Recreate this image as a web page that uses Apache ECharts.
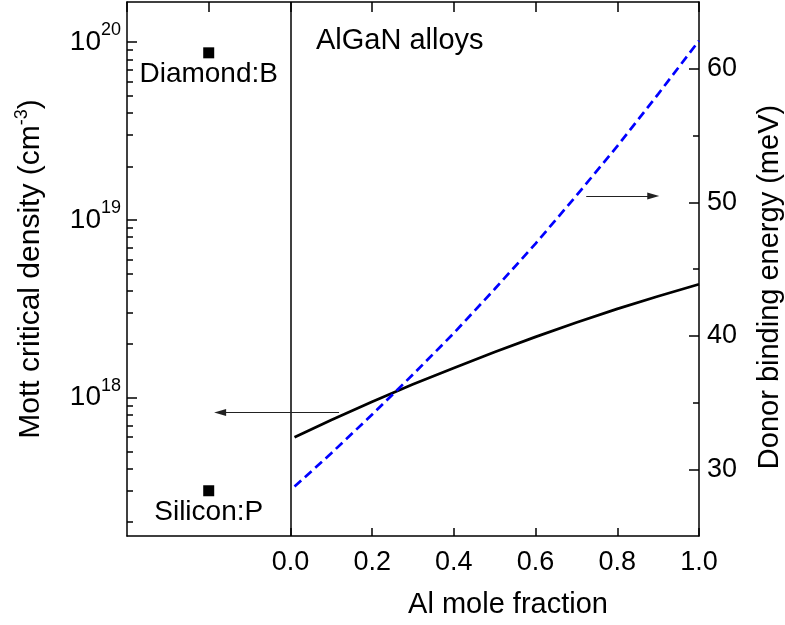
<!DOCTYPE html>
<html>
<head>
<meta charset="utf-8">
<title>AlGaN alloys: Mott critical density and donor binding energy</title>
<script src="https://cdn.jsdelivr.net/npm/echarts@6/dist/echarts.min.js"></script>
<style>
html, body { margin: 0; padding: 0; background: #fff; }
#main { width: 785px; height: 625px; }
</style>
</head>
<body>
<div id="main"></div>
<script>
// Al mole fraction of the two AlGaN curves
var alFraction = [0.01, 0.1, 0.2, 0.3, 0.4, 0.5, 0.6, 0.7, 0.8, 0.9, 1.0];
// Mott critical density (cm^-3), left log axis
var mottDensity = [6.0e17, 7.5e17, 9.5e17, 1.19e18, 1.47e18, 1.81e18, 2.2e18, 2.65e18, 3.16e18, 3.72e18, 4.35e18];
// donor binding energy (meV), right axis
var bindingEnergy = [28.7, 31.2, 34.1, 37.1, 40.2, 43.5, 46.9, 50.5, 54.2, 58.1, 62.1];

// reference semiconductors, plotted left of x = 0
var refNames = ['Diamond:B', 'Silicon:P'];
var refX = [-0.2, -0.2];
var refDensity = [8.7e19, 3.0e17];

// arrows telling which axis each curve uses: [x start, x end, y]
var leftArrow = [0.119, -0.172, 8.26e17];
var rightArrow = [0.724, 0.888, 50.46];

// axes
var xTicks = [0, 0.2, 0.4, 0.6, 0.8, 1.0];
var densityMin = 1.67e17, densityMax = 1.68e20;
var densityTicks = [1e18, 1e19, 1e20];
var minorMantissa = [2, 3, 4, 5, 6, 7, 8, 9];
var minorDecades = [17, 18, 19];
var energyMin = 25, energyMax = 65;
var energyTicks = [30, 40, 50, 60];
var energyMinorTicks = [35, 45, 55];

var lg = Math.log10;
var black = '#000';
var font = '"Liberation Sans", Arial, Helvetica, sans-serif';

// the left axis is a value axis in log10 units
var densityMinorTicks = [];
minorDecades.forEach(function (d) {
  minorMantissa.forEach(function (m) { densityMinorTicks.push(lg(m) + d); });
});

var axisLine = { onZero: false, lineStyle: { color: black, width: 1.5 } };
var noLine = { show: false, onZero: false };
var tickStyle = { color: black, width: 1.5 };

var option = {
  animation: false,
  textStyle: { fontFamily: font, color: black },
  title: {
    text: 'AlGaN alloys',
    left: 316,
    top: 26,
    padding: 0,
    textStyle: { fontSize: 29, fontWeight: 'normal', color: black, fontFamily: font }
  },
  grid: { left: 127, right: 86, top: 2, bottom: 89, outerBoundsMode: 'none' },
  xAxis: [{
    type: 'value',
    position: 'bottom',
    min: -0.4,
    max: 1.0,
    interval: 0.2,
    name: 'Al mole fraction',
    nameLocation: 'middle',
    nameGap: 54,
    nameTextStyle: { fontSize: 29, color: black, padding: [0, 0, 0, 190] },
    axisLine: axisLine,
    axisTick: { inside: true, length: 8, lineStyle: tickStyle, customValues: xTicks },
    axisLabel: {
      customValues: xTicks,
      margin: 13,
      fontSize: 27,
      color: black,
      formatter: function (v) { return v.toFixed(1); }
    },
    splitLine: { show: false }
  }, {
    type: 'value',
    position: 'top',
    min: -0.4,
    max: 1.0,
    interval: 0.2,
    axisLine: axisLine,
    axisTick: { inside: true, length: 10, lineStyle: tickStyle },
    axisLabel: { show: false },
    splitLine: { show: false }
  }],
  yAxis: [{
    type: 'value',
    position: 'left',
    min: lg(densityMin),
    max: lg(densityMax),
    name: 'Mott critical density (cm{s|-3})',
    nameLocation: 'middle',
    nameGap: 78,
    nameTextStyle: {
      fontSize: 30,
      color: black,
      lineHeight: 36,
      rich: { s: { fontSize: 18, lineHeight: 18, verticalAlign: 'top', fontFamily: font, color: black } }
    },
    axisLine: axisLine,
    axisTick: { inside: true, length: 10, lineStyle: tickStyle, customValues: densityTicks.map(lg) },
    axisLabel: {
      customValues: densityTicks.map(lg),
      margin: 6,
      formatter: function (v) { return '{b|10}{s|' + Math.round(v) + '}'; },
      rich: {
        b: { fontSize: 28, lineHeight: 42, fontFamily: font, color: black },
        s: { fontSize: 18, lineHeight: 16, verticalAlign: 'top', fontFamily: font, color: black }
      }
    },
    splitLine: { show: false }
  }, {
    type: 'value',
    position: 'left',
    min: lg(densityMin),
    max: lg(densityMax),
    axisLine: noLine,
    axisTick: { inside: true, length: 6, lineStyle: tickStyle, customValues: densityMinorTicks },
    axisLabel: { show: false },
    splitLine: { show: false }
  }, {
    type: 'value',
    position: 'right',
    min: energyMin,
    max: energyMax,
    name: 'Donor binding energy (meV)',
    nameLocation: 'middle',
    nameGap: 56,
    nameTextStyle: { fontSize: 29, color: black, padding: [0, 36, 0, 0] },
    axisLine: axisLine,
    axisTick: { inside: true, length: 10, lineStyle: tickStyle, customValues: energyTicks },
    axisLabel: { customValues: energyTicks, margin: 8, fontSize: 27, color: black },
    splitLine: { show: false }
  }, {
    type: 'value',
    position: 'right',
    min: energyMin,
    max: energyMax,
    axisLine: noLine,
    axisTick: { inside: true, length: 6, lineStyle: tickStyle, customValues: energyMinorTicks },
    axisLabel: { show: false },
    splitLine: { show: false }
  }],
  series: [{
    name: 'Mott critical density',
    type: 'line',
    xAxisIndex: 0,
    yAxisIndex: 0,
    data: alFraction.map(function (x, i) { return [x, lg(mottDensity[i])]; }),
    symbol: 'none',
    lineStyle: { color: black, width: 2.7 },
    markLine: {
      silent: true,
      symbol: 'none',
      animation: false,
      label: { show: false },
      lineStyle: { color: black, width: 1.5, type: 'solid' },
      data: [{ xAxis: 0 }]
    }
  }, {
    name: 'Donor binding energy',
    type: 'line',
    xAxisIndex: 0,
    yAxisIndex: 2,
    data: alFraction.map(function (x, i) { return [x, bindingEnergy[i]]; }),
    symbol: 'none',
    lineStyle: { color: '#0000ff', width: 2.7, type: [9, 5] },
    markLine: {
      silent: true,
      symbol: ['none', 'triangle'],
      symbolSize: [7, 12],
      animation: false,
      label: { show: false },
      lineStyle: { color: '#222', width: 1, type: 'solid' },
      data: [[{ coord: [rightArrow[0], rightArrow[2]] }, { coord: [rightArrow[1], rightArrow[2]] }]]
    }
  }, {
    name: 'Reference',
    type: 'scatter',
    xAxisIndex: 0,
    yAxisIndex: 0,
    symbol: 'rect',
    symbolSize: 11,
    itemStyle: { color: black, opacity: 1 },
    label: {
      show: true,
      position: 'bottom',
      distance: 2,
      formatter: '{b}',
      fontSize: 28,
      color: black,
      fontFamily: font
    },
    data: refNames.map(function (n, i) { return { name: n, value: [refX[i], lg(refDensity[i])] }; }),
    markLine: {
      silent: true,
      symbol: ['none', 'triangle'],
      symbolSize: [7, 12],
      animation: false,
      label: { show: false },
      lineStyle: { color: '#222', width: 1, type: 'solid', opacity: 1 },
      data: [[{ coord: [leftArrow[0], lg(leftArrow[2])] }, { coord: [leftArrow[1], lg(leftArrow[2])] }]]
    }
  }]
};

echarts.init(document.getElementById('main')).setOption(option);
</script>
</body>
</html>
